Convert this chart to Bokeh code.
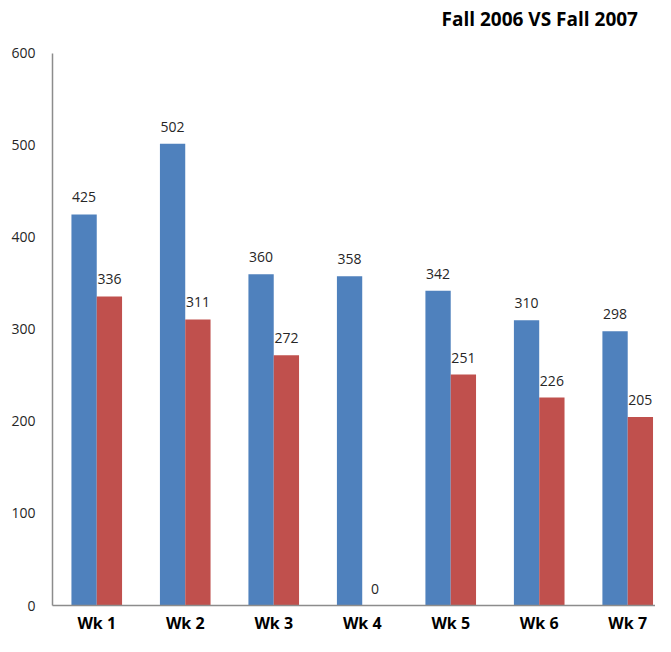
from bokeh.plotting import figure
from bokeh.models import ColumnDataSource, Range1d, Label, FixedTicker
from bokeh.core.properties import value
from bokeh.transform import dodge
from bokeh.embed import file_html
from bokeh.resources import INLINE

weeks = ["Wk 1", "Wk 2", "Wk 3", "Wk 4", "Wk 5", "Wk 6", "Wk 7"]
fall_2006 = [425, 502, 360, 358, 342, 310, 298]
fall_2007 = [336, 311, 272, 0, 251, 226, 205]
y_ticks = [0, 100, 200, 300, 400, 500, 600]
title_text = "Fall 2006 VS Fall 2007"

idx = list(range(len(weeks)))
src = ColumnDataSource(dict(
    x=idx, a=fall_2006, b=fall_2007,
    la=[str(v) for v in fall_2006], lb=[str(v) for v in fall_2007],
))

BLUE = "#4F81BD"
RED = "#C0504D"
FONT = "Open Sans"

p = figure(width=655, height=636, output_backend="svg", toolbar_location=None,
           x_range=Range1d(-0.5, 6.314), y_range=Range1d(0, 657.6),
           min_border_left=52, min_border_bottom=31, min_border_top=0, min_border_right=0)
p.outline_line_color = None
p.background_fill_color = "white"
p.border_fill_color = "white"
p.grid.visible = False

w = 0.286
p.vbar(x=dodge("x", -0.143), top="a", width=w, bottom=0, source=src,
       fill_color=BLUE, line_color=None)
p.vbar(x=dodge("x", 0.143), top="b", width=w, bottom=0, source=src,
       fill_color=RED, line_color=None)

p.text(x=dodge("x", -0.143), y="a", text="la", source=src, text_align="center",
       text_baseline="middle", y_offset=-17, text_font=value(FONT),
       text_font_size="14px", text_color="#262626")
p.text(x=dodge("x", 0.143), y="b", text="lb", source=src, text_align="center",
       text_baseline="middle", y_offset=-17, text_font=value(FONT),
       text_font_size="14px", text_color="#262626")

yax = p.yaxis[0]
yax.ticker = FixedTicker(ticks=y_ticks)
yax.bounds = (0, 600)
yax.axis_line_color = "#8C8C8C"
yax.axis_line_width = 1.5
yax.major_tick_line_color = None
yax.minor_tick_line_color = None
yax.major_tick_in = 0
yax.major_tick_out = 0
yax.major_label_standoff = 17
yax.major_label_text_font = FONT
yax.major_label_text_font_size = "14px"
yax.major_label_text_color = "#262626"

xax = p.xaxis[0]
xax.ticker = FixedTicker(ticks=idx)
xax.major_label_overrides = {i: wk for i, wk in zip(idx, weeks)}
xax.axis_line_color = "#8C8C8C"
xax.axis_line_width = 1.5
xax.major_tick_line_color = None
xax.minor_tick_line_color = None
xax.major_tick_in = 0
xax.major_tick_out = 0
xax.major_label_standoff = 6
xax.major_label_text_font = FONT
xax.major_label_text_font_size = "16px"
xax.major_label_text_font_style = "bold"
xax.major_label_text_color = "#000000"

title = Label(x=389, y=587, x_units="screen", y_units="screen", text=title_text,
              text_font=FONT, text_font_size="19px", text_font_style="bold",
              text_baseline="middle", text_align="left", text_color="#000000")
p.add_layout(title)

open("out.html", "w").write(file_html(p, INLINE))
